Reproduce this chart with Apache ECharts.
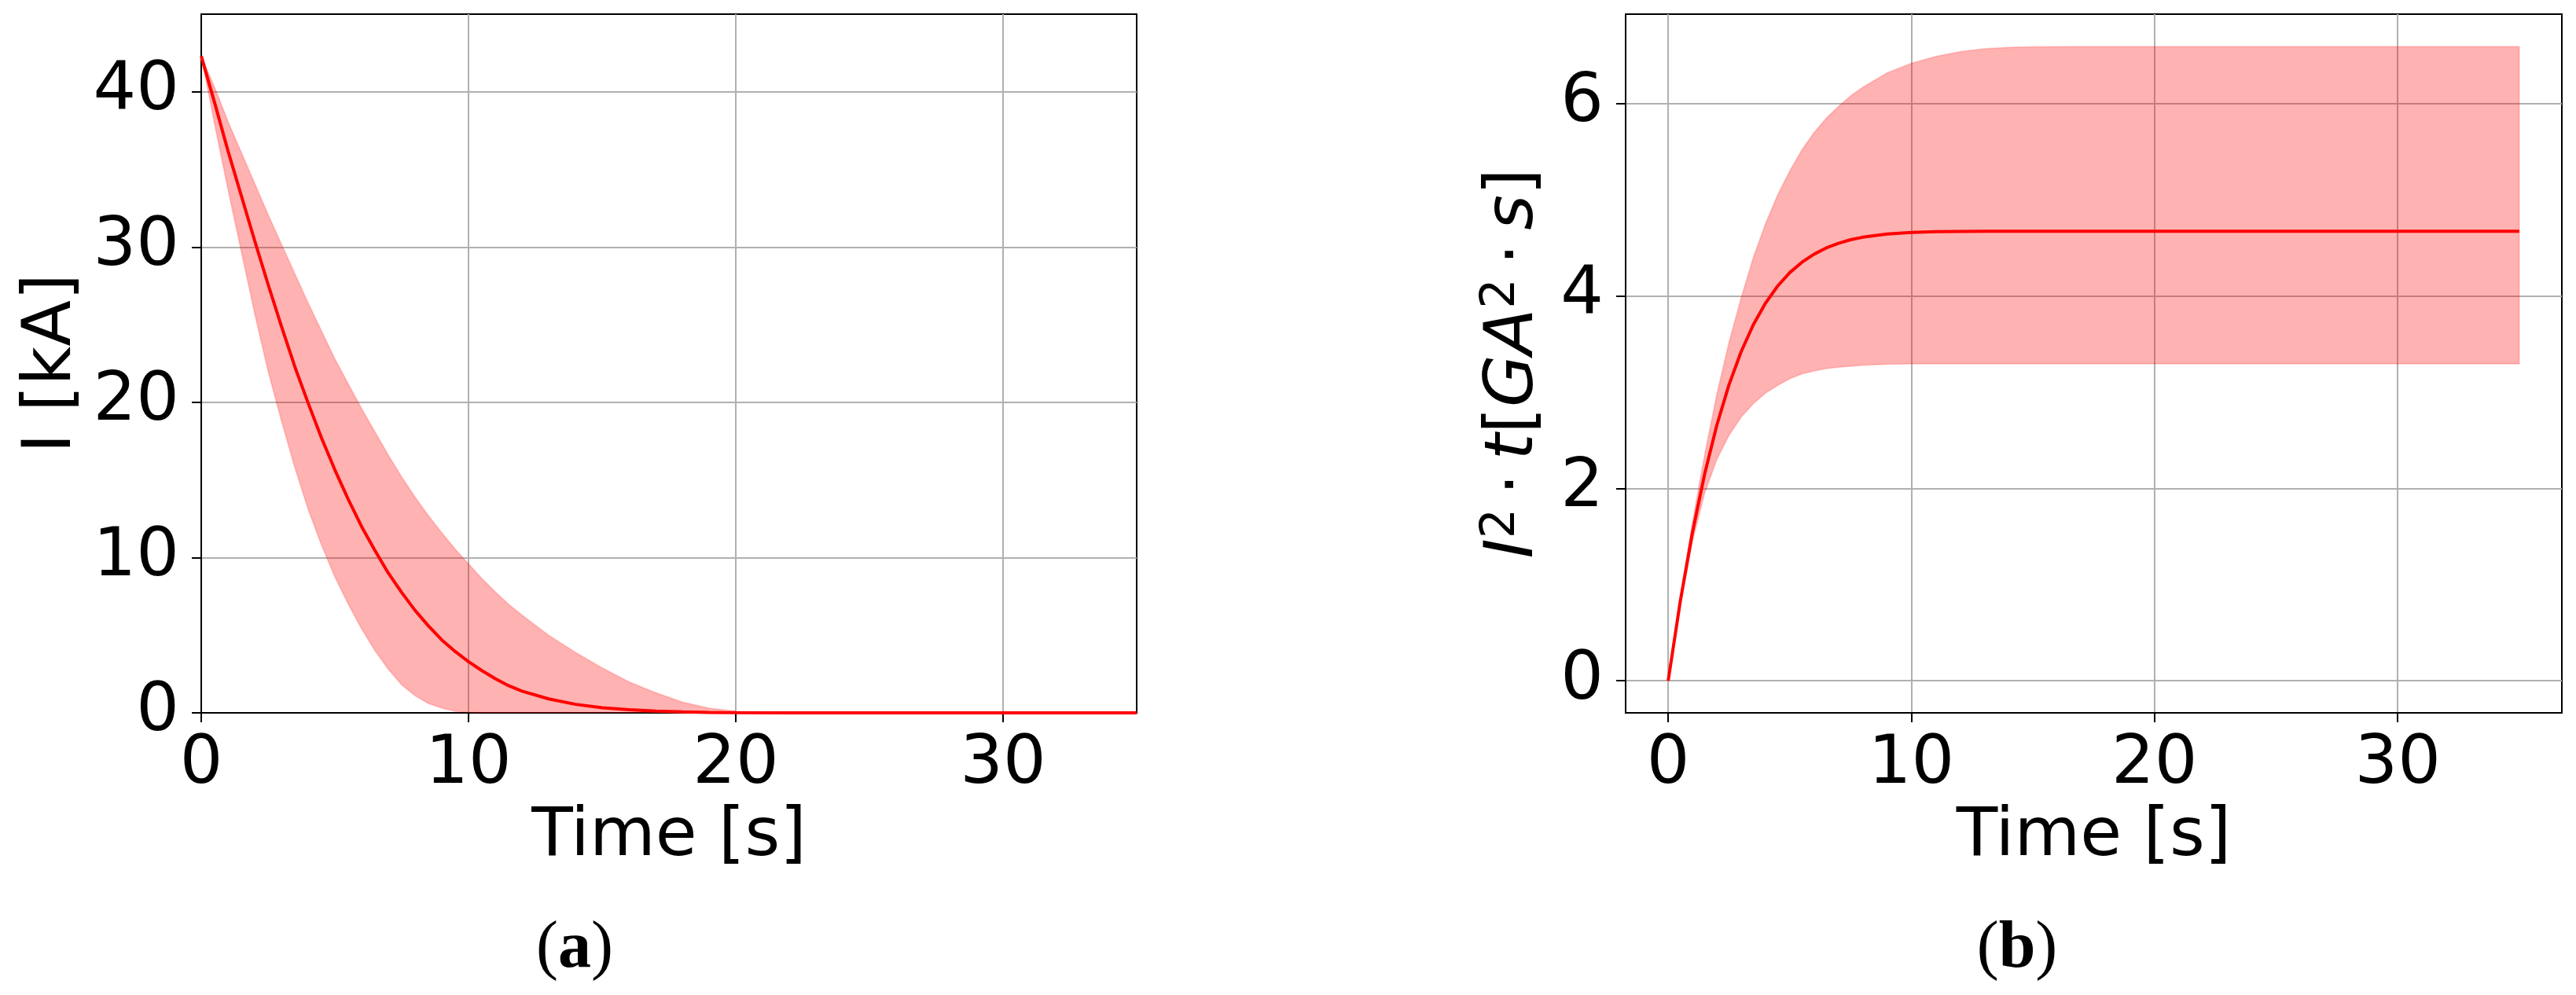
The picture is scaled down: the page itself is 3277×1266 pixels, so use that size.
<!DOCTYPE html>
<html>
<head>
<meta charset="utf-8">
<script src="https://cdn.jsdelivr.net/npm/echarts@6/dist/echarts.min.js"></script>
<style>
html,body{margin:0;padding:0;background:#fff;}
#chart{width:3277px;height:1266px;}
</style>
</head>
<body>
<div id="chart"></div>
<script>
// ---- data: panel (a) current I [kA] vs time [s]
const tA = [0,0.5,1,1.5,2,2.5,3,3.5,4,4.5,5,5.5,6,6.5,7,7.5,8,8.5,9,9.5,10,10.5,11,11.5,12,13,14,15,16,17,18,19,20,22,25,30,35];
const iMean = [42.3,39.3,36.2,33.3,30.4,27.6,24.9,22.3,19.95,17.7,15.65,13.75,12.0,10.45,9.0,7.75,6.6,5.6,4.7,3.95,3.3,2.72,2.2,1.75,1.4,0.9,0.55,0.33,0.2,0.11,0.06,0.03,0.015,0,0,0,0];
const iHigh = [42.3,40.3,38.1,36.1,34.1,32.1,30.2,28.3,26.4,24.6,22.8,21.2,19.6,18.1,16.6,15.2,13.9,12.7,11.6,10.55,9.6,8.65,7.8,7.0,6.3,5.0,3.9,2.9,2.0,1.3,0.7,0.3,0.1,0,0,0,0];
const iLow = [42.3,37.9,33.7,29.7,25.7,22.0,18.8,15.8,13.1,10.8,8.75,7.0,5.4,4.0,2.8,1.8,1.1,0.6,0.3,0.1,0.02,0,0,0,0,0,0,0,0,0,0,0,0,0,0,0,0];

// ---- data: panel (b) I^2 t [GA^2 s] vs time [s]
const tB = [0,0.5,1,1.5,2,2.5,3,3.5,4,4.5,5,5.5,6,6.5,7,7.5,8,9,10,11,12,13,14,15,17,20,25,30,35];
const eMean = [0,0.83,1.545,2.15,2.657,3.077,3.421,3.701,3.925,4.103,4.243,4.351,4.435,4.5,4.548,4.585,4.611,4.644,4.661,4.669,4.672,4.673,4.674,4.674,4.674,4.674,4.674,4.674,4.674];
const eHigh = [0,0.86,1.65,2.35,2.98,3.52,3.98,4.4,4.75,5.05,5.3,5.52,5.7,5.85,5.97,6.08,6.17,6.32,6.42,6.49,6.54,6.57,6.585,6.59,6.594,6.594,6.594,6.594,6.594];
const eLow = [0,0.8,1.45,1.95,2.3,2.55,2.74,2.88,2.99,3.07,3.14,3.19,3.22,3.245,3.26,3.27,3.28,3.29,3.295,3.295,3.295,3.295,3.295,3.295,3.295,3.295,3.295,3.295,3.295];

// ---- tick labels
const xTicks = [0,10,20,30];
const yTicksA = [0,10,20,30,40];
const yTicksB = [0,2,4,6];

const FONT = 'DejaVu Sans';
const pairs = (xs, ys) => xs.map((x, k) => [x, ys[k]]);

function axisCommon(ticks, margin) {
  return {
    axisLine: {show: true, onZero: false, lineStyle: {color: '#000', width: 2}},
    axisTick: {show: true, inside: false, length: 12, customValues: ticks, lineStyle: {color: '#000', width: 2}},
    axisLabel: {show: true, customValues: ticks, color: '#000', fontFamily: FONT, fontSize: 86, margin: margin},
    splitLine: {show: true, lineStyle: {color: '#b0b0b0', width: 2}}
  };
}

// fill_between band drawn as one polygon through the axis scales
function bandSeries(idx, t, lo, hi, mean) {
  return [
    {type: 'custom', xAxisIndex: idx, yAxisIndex: idx, coordinateSystem: 'cartesian2d',
     data: [[t[0], lo[0]]], silent: true, clip: true, z: 2,
     renderItem: function (params, api) {
       const pts = [];
       for (let k = 0; k < t.length; k++) pts.push(api.coord([t[k], hi[k]]));
       for (let k = t.length - 1; k >= 0; k--) pts.push(api.coord([t[k], lo[k]]));
       return {type: 'polygon', shape: {points: pts},
               style: {fill: 'rgba(255,0,0,0.3)', stroke: 'rgba(255,0,0,0.15)', lineWidth: 2}};
     }},
    {type: 'line', xAxisIndex: idx, yAxisIndex: idx, data: pairs(t, mean),
     symbol: 'none', silent: true, lineStyle: {color: '#ff0000', width: 4}, z: 3}
  ];
}

const chart = echarts.init(document.getElementById('chart'), null, {renderer: 'canvas'});
const nameStyle = {fontFamily: FONT, fontSize: 86, color: '#000'};
chart.setOption({
  animation: false,
  backgroundColor: '#fff',
  grid: [
    {left: 256, top: 18, width: 1190, height: 889, show: true, borderColor: '#000', borderWidth: 2, backgroundColor: 'transparent'},
    {left: 2068, top: 18, width: 1191, height: 889, show: true, borderColor: '#000', borderWidth: 2, backgroundColor: 'transparent'}
  ],
  xAxis: [
    Object.assign({type: 'value', gridIndex: 0, min: 0, max: 35,
      name: 'Time [s]', nameLocation: 'middle', nameGap: 116, nameTextStyle: nameStyle}, axisCommon(xTicks, 24)),
    Object.assign({type: 'value', gridIndex: 1, min: -1.75, max: 36.75,
      name: 'Time [s]', nameLocation: 'middle', nameGap: 116, nameTextStyle: nameStyle}, axisCommon(xTicks, 24))
  ],
  yAxis: [
    Object.assign({type: 'value', gridIndex: 0, min: 0, max: 45,
      name: 'I [kA]', nameLocation: 'middle', nameGap: 146, nameRotate: 90, nameTextStyle: nameStyle},
      axisCommon(yTicksA, 28)),
    Object.assign({type: 'value', gridIndex: 1, min: -0.333, max: 6.93,
      name: '{i|I}{s|2}{n|\u2009·\u2009}{i|t}{n|[}{i|GA}{s|2}{n|\u2009·\u2009}{i|s}{n|]}',
      nameLocation: 'middle', nameGap: 98, nameRotate: 90,
      nameTextStyle: {fontFamily: FONT, fontSize: 86, color: '#000',
        rich: {
          i: {fontFamily: FONT, fontSize: 86, fontStyle: 'italic', color: '#000', verticalAlign: 'bottom'},
          n: {fontFamily: FONT, fontSize: 86, color: '#000', verticalAlign: 'bottom'},
          s: {fontFamily: FONT, fontSize: 60, color: '#000', verticalAlign: 'bottom', padding: [0, 0, 30, 0]}
        }}},
      axisCommon(yTicksB, 28))
  ],
  series: [].concat(
    bandSeries(0, tA, iLow, iHigh, iMean),
    bandSeries(1, tB, eLow, eHigh, eMean)
  ),
  graphic: [
    {type: 'text', x: 731, y: 1208, silent: true,
     style: {text: '{p|(}{b|a}{p|)}', align: 'center', verticalAlign: 'middle',
       rich: {p: {fontFamily: 'Liberation Serif', fontSize: 84, fill: '#000'},
              b: {fontFamily: 'Liberation Serif', fontSize: 84, fontWeight: 'bold', fill: '#000'}}}},
    {type: 'text', x: 2566, y: 1208, silent: true,
     style: {text: '{p|(}{b|b}{p|)}', align: 'center', verticalAlign: 'middle',
       rich: {p: {fontFamily: 'Liberation Serif', fontSize: 84, fill: '#000'},
              b: {fontFamily: 'Liberation Serif', fontSize: 84, fontWeight: 'bold', fill: '#000'}}}}
  ]
});
</script>
</body>
</html>
